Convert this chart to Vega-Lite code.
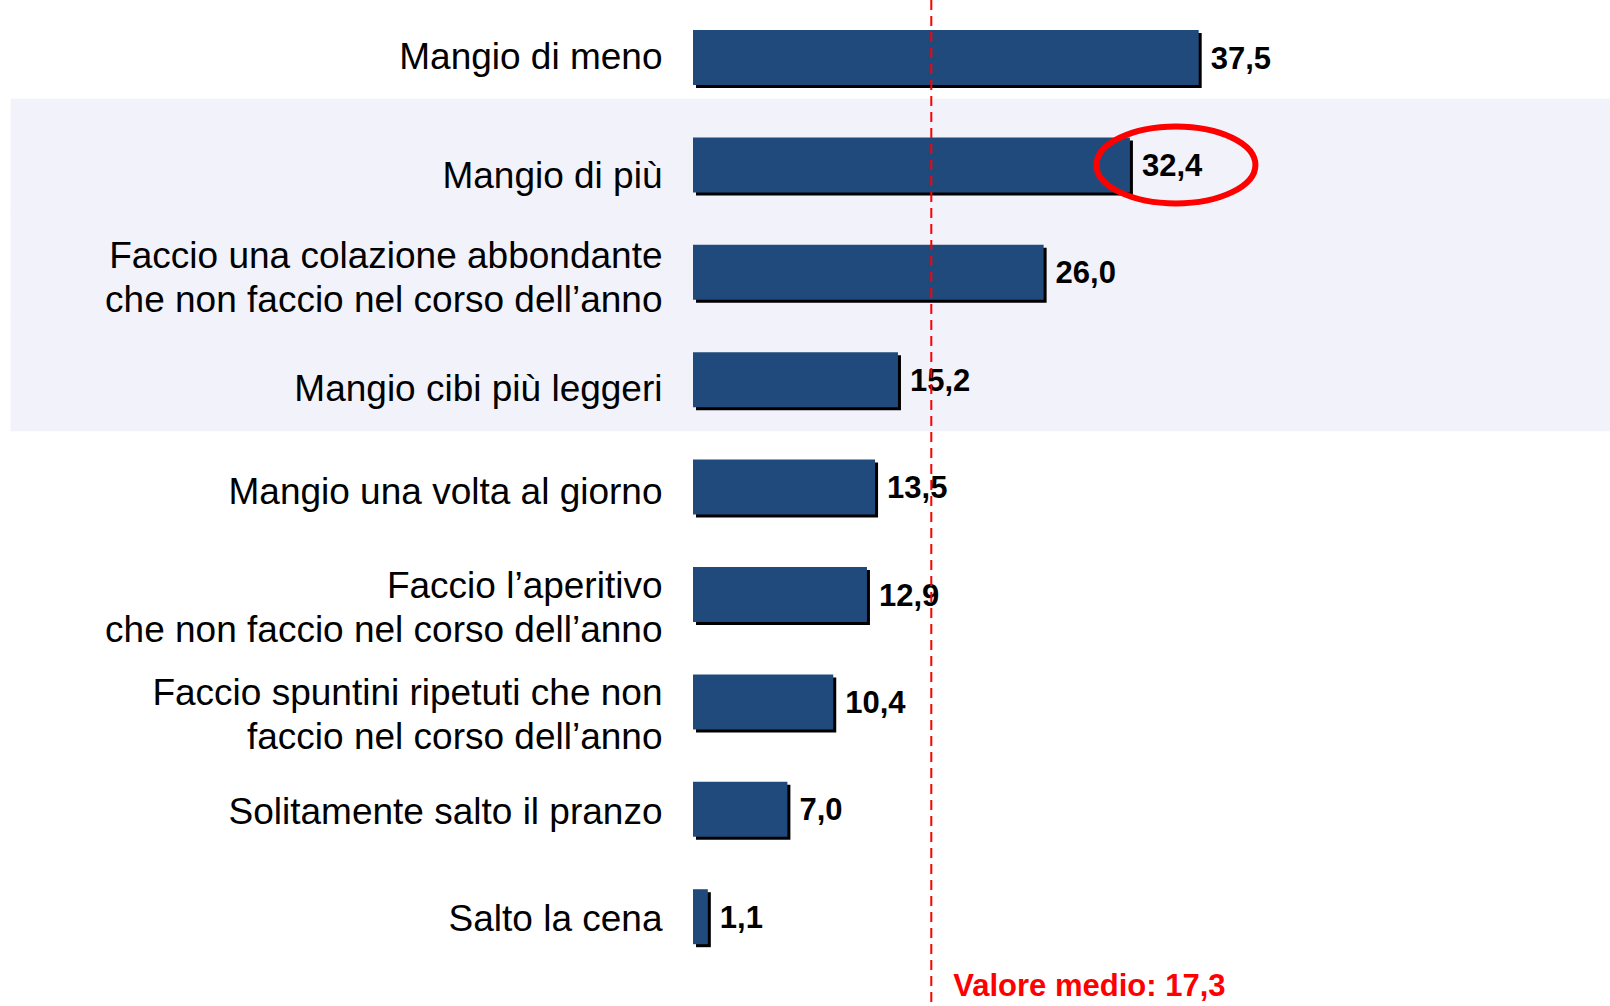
{
  "$schema": "https://vega.github.io/schema/vega-lite/v6.json",
  "width": 917,
  "height": 1006,
  "autosize": "none",
  "padding": {"left": 693, "top": 0, "right": 0, "bottom": 0},
  "background": "white",
  "config": {
    "view": {"stroke": null},
    "locale": {"number": {"decimal": ",", "thousands": ".", "grouping": [3], "currency": ["€", ""]}}
  },
  "datasets": {
    "risposte": [
      {"cat": "Mangio di meno", "value": 37.5, "hl": false},
      {"cat": "Mangio di più", "value": 32.4, "hl": true},
      {"cat": "Faccio una colazione abbondante|che non faccio nel corso dell’anno", "value": 26.0, "hl": true},
      {"cat": "Mangio cibi più leggeri", "value": 15.2, "hl": true},
      {"cat": "Mangio una volta al giorno", "value": 13.5, "hl": false},
      {"cat": "Faccio l’aperitivo|che non faccio nel corso dell’anno", "value": 12.9, "hl": false},
      {"cat": "Faccio spuntini ripetuti che non|faccio nel corso dell’anno", "value": 10.4, "hl": false},
      {"cat": "Solitamente salto il pranzo", "value": 7.0, "hl": false},
      {"cat": "Salto la cena", "value": 1.1, "hl": false}
    ],
    "media": [
      {"label": "Valore medio: 17,3", "value": 17.3}
    ]
  },
  "data": {"name": "risposte"},
  "encoding": {
    "y": {
      "field": "cat",
      "type": "nominal",
      "sort": null,
      "scale": {
        "domain": [
          "Mangio di meno",
          "Mangio di più",
          "Faccio una colazione abbondante|che non faccio nel corso dell’anno",
          "Mangio cibi più leggeri",
          "Mangio una volta al giorno",
          "Faccio l’aperitivo|che non faccio nel corso dell’anno",
          "Faccio spuntini ripetuti che non|faccio nel corso dell’anno",
          "Solitamente salto il pranzo",
          "Salto la cena"
        ],
        "paddingInner": 0.488,
        "paddingOuter": 0.4275,
        "align": 0.327
      },
      "axis": {
        "title": null,
        "domain": false,
        "ticks": false,
        "labelPadding": 31,
        "labelFont": "Liberation Sans",
        "labelFontSize": 37,
        "labelColor": "#000000",
        "labelLimit": 900,
        "labelLineHeight": 44,
        "labelExpr": "datum.label == 'Mangio cibi più leggeri' ? 'Mangio cibi più leggeri\u2002' : split(datum.label, '|')",
        "labelOffset": {
          "condition": [
            {"test": "datum.value == 'Mangio di più'", "value": 12},
            {"test": "indexof(datum.value, 'colazione') >= 0", "value": -15},
            {"test": "datum.value == 'Mangio cibi più leggeri'", "value": 10},
            {"test": "datum.value == 'Mangio una volta al giorno'", "value": 6},
            {"test": "indexof(datum.value, 'aperitivo') >= 0", "value": -8},
            {"test": "indexof(datum.value, 'spuntini') >= 0", "value": -8},
            {"test": "datum.value == 'Solitamente salto il pranzo'", "value": 4},
            {"test": "datum.value == 'Salto la cena'", "value": 3}
          ],
          "value": 0
        },
        "zindex": 2
      }
    }
  },
  "layer": [
    {
      "transform": [{"filter": "datum.hl"}],
      "mark": {"type": "bar", "color": "#f2f2fa", "height": {"band": 2.144}, "yOffset": -7.3},
      "encoding": {
        "x": {"datum": -50.6, "type": "quantitative", "scale": {"domain": [0, 68], "nice": false, "zero": false}, "axis": null},
        "x2": {"datum": 68}
      }
    },
    {
      "mark": {"type": "bar", "color": "#000000", "xOffset": 3, "yOffset": 3},
      "encoding": {
        "x": {"field": "value", "type": "quantitative", "axis": null}
      }
    },
    {
      "mark": {"type": "bar", "color": "#214a7c"},
      "encoding": {
        "x": {"field": "value", "type": "quantitative", "axis": null}
      }
    },
    {
      "mark": {"type": "text", "align": "left", "baseline": "middle", "dx": 12, "dy": 2, "font": "Liberation Sans", "fontWeight": "bold", "fontSize": 31, "color": "#000000"},
      "encoding": {
        "x": {"field": "value", "type": "quantitative", "axis": null},
        "text": {"field": "value", "type": "quantitative", "format": ".1f"}
      }
    },
    {
      "data": {"name": "media"},
      "mark": {"type": "rule", "color": "#ff0000", "strokeWidth": 2, "strokeDash": [10, 6], "xOffset": 5},
      "encoding": {
        "x": {"field": "value", "type": "quantitative", "axis": null},
        "y": null
      }
    },
    {
      "data": {"name": "media"},
      "mark": {"type": "text", "align": "left", "baseline": "alphabetic", "dx": 22, "xOffset": 5, "font": "Liberation Sans", "fontWeight": "bold", "fontSize": 31, "color": "#ff0000"},
      "encoding": {
        "x": {"field": "value", "type": "quantitative", "axis": null},
        "y": {"value": 996},
        "text": {"field": "label", "type": "nominal"}
      }
    },
    {
      "transform": [{"filter": "datum.cat == 'Mangio di più'"}],
      "mark": {"type": "point", "shape": "M-1,0A1,0.484,0,1,1,1,0A1,0.484,0,1,1,-1,0Z", "size": 25281, "filled": false, "stroke": "#ff0000", "strokeWidth": 6, "opacity": 1, "xOffset": 46},
      "encoding": {
        "x": {"field": "value", "type": "quantitative", "axis": null}
      }
    }
  ]
}
